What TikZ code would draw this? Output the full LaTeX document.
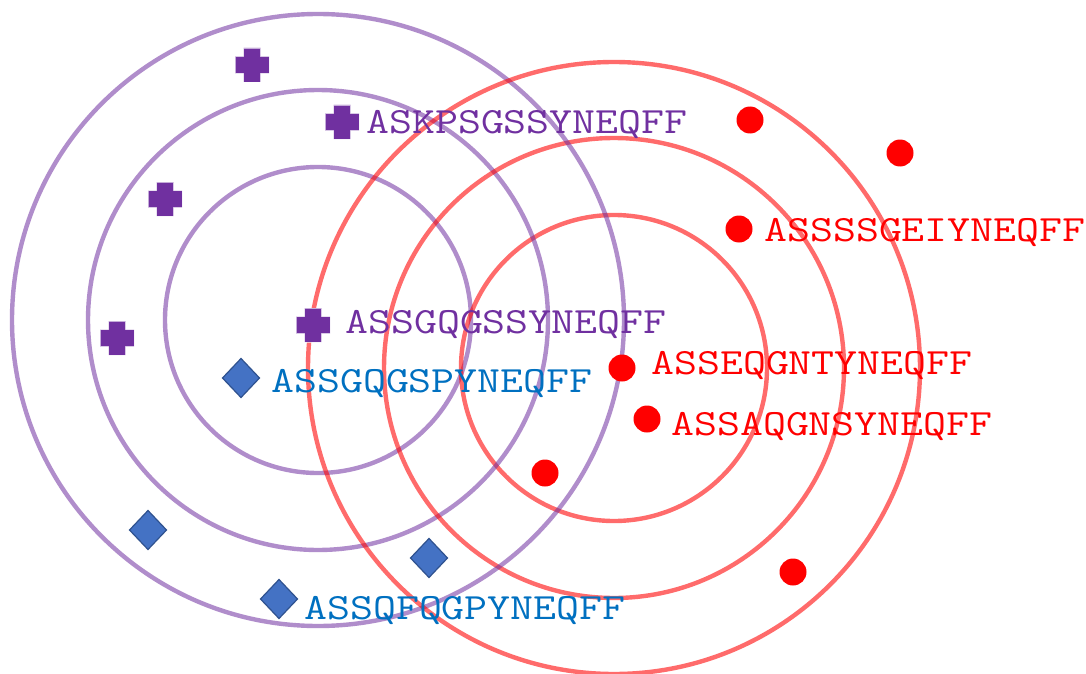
\documentclass[tikz,border=0pt]{standalone}
\usepackage{fontspec}
\newfontfamily\lblfont[FakeStretch=1.205]{Latin Modern Mono}
\definecolor{grpA}{HTML}{7030A0}
\definecolor{grpB}{HTML}{4472C4}
\definecolor{grpBline}{HTML}{2F528F}
\definecolor{grpBtext}{HTML}{0070C0}
\definecolor{grpC}{HTML}{FF0000}
\tikzset{
  ringA/.style={draw=grpA, draw opacity=0.55, line width=4.4pt},
  ringC/.style={draw=grpC, draw opacity=0.58, line width=4.4pt},
  lbl/.style={anchor=base west, inner sep=0pt, font=\lblfont\fontsize{37}{40}\selectfont},
  pics/plusmark/.style={code={
    \fill[grpA, draw=white, draw opacity=0.6, line width=0.6pt]
      (-8.5,-17) -- (8.5,-17) -- (8.5,-8.5) -- (17,-8.5) -- (17,8.5) -- (8.5,8.5)
      -- (8.5,17) -- (-8.5,17) -- (-8.5,8.5) -- (-17,8.5) -- (-17,-8.5) -- (-8.5,-8.5) -- cycle;}},
  pics/diamark/.style={code={
    \filldraw[fill=grpB, draw=grpBline, line width=1.2pt]
      (-18.5,0) -- (0,-19.5) -- (18.5,0) -- (0,19.5) -- cycle;}},
  dotmark/.style={circle, fill=grpC, inner sep=0pt, minimum size=27pt},
}
\begin{document}
\begin{tikzpicture}[x=1pt, y=-1pt]
\useasboundingbox (0,0) rectangle (1086,674);
% concentric rings of the two groups
\coordinate (cA) at (318,320);
\coordinate (cC) at (614,368);
\foreach \r in {153,230,306} {
  \draw[ringA] (cA) circle[radius=\r];
  \draw[ringC] (cC) circle[radius=\r];
}
% purple crosses
\pic at (252,65) {plusmark};
\pic at (342,122) {plusmark};
\pic at (165,199) {plusmark};
\pic at (117,338) {plusmark};
\pic at (313,325) {plusmark};
% blue diamonds
\pic at (241,378) {diamark};
\pic at (148,530) {diamark};
\pic at (429,558) {diamark};
\pic at (279,599) {diamark};
% red dots
\node[dotmark] (d1) at (750,120) {};
\node[dotmark] (d2) at (900,153) {};
\node[dotmark] (d3) at (739,229) {};
\node[dotmark] (d4) at (622,368) {};
\node[dotmark] (d5) at (647,419) {};
\node[dotmark] (d6) at (545,473) {};
\node[dotmark] (d7) at (793,572) {};
% sequence labels
\node[lbl, text=grpA] (tA1) at (366,134) {ASKPSGSSYNEQFF};
\node[lbl, text=grpA] (tA2) at (345,333) {ASSGQGSSYNEQFF};
\node[lbl, text=grpBtext] (tB1) at (271,392) {ASSGQGSPYNEQFF};
\node[lbl, text=grpBtext] (tB2) at (304,619) {ASSQFQGPYNEQFF};
\node[lbl, text=grpC] (tC1) at (764,241) {ASSSSGEIYNEQFF};
\node[lbl, text=grpC] (tC2) at (651,374) {ASSEQGNTYNEQFF};
\node[lbl, text=grpC] (tC3) at (671,435) {ASSAQGNSYNEQFF};
\end{tikzpicture}
\end{document}
